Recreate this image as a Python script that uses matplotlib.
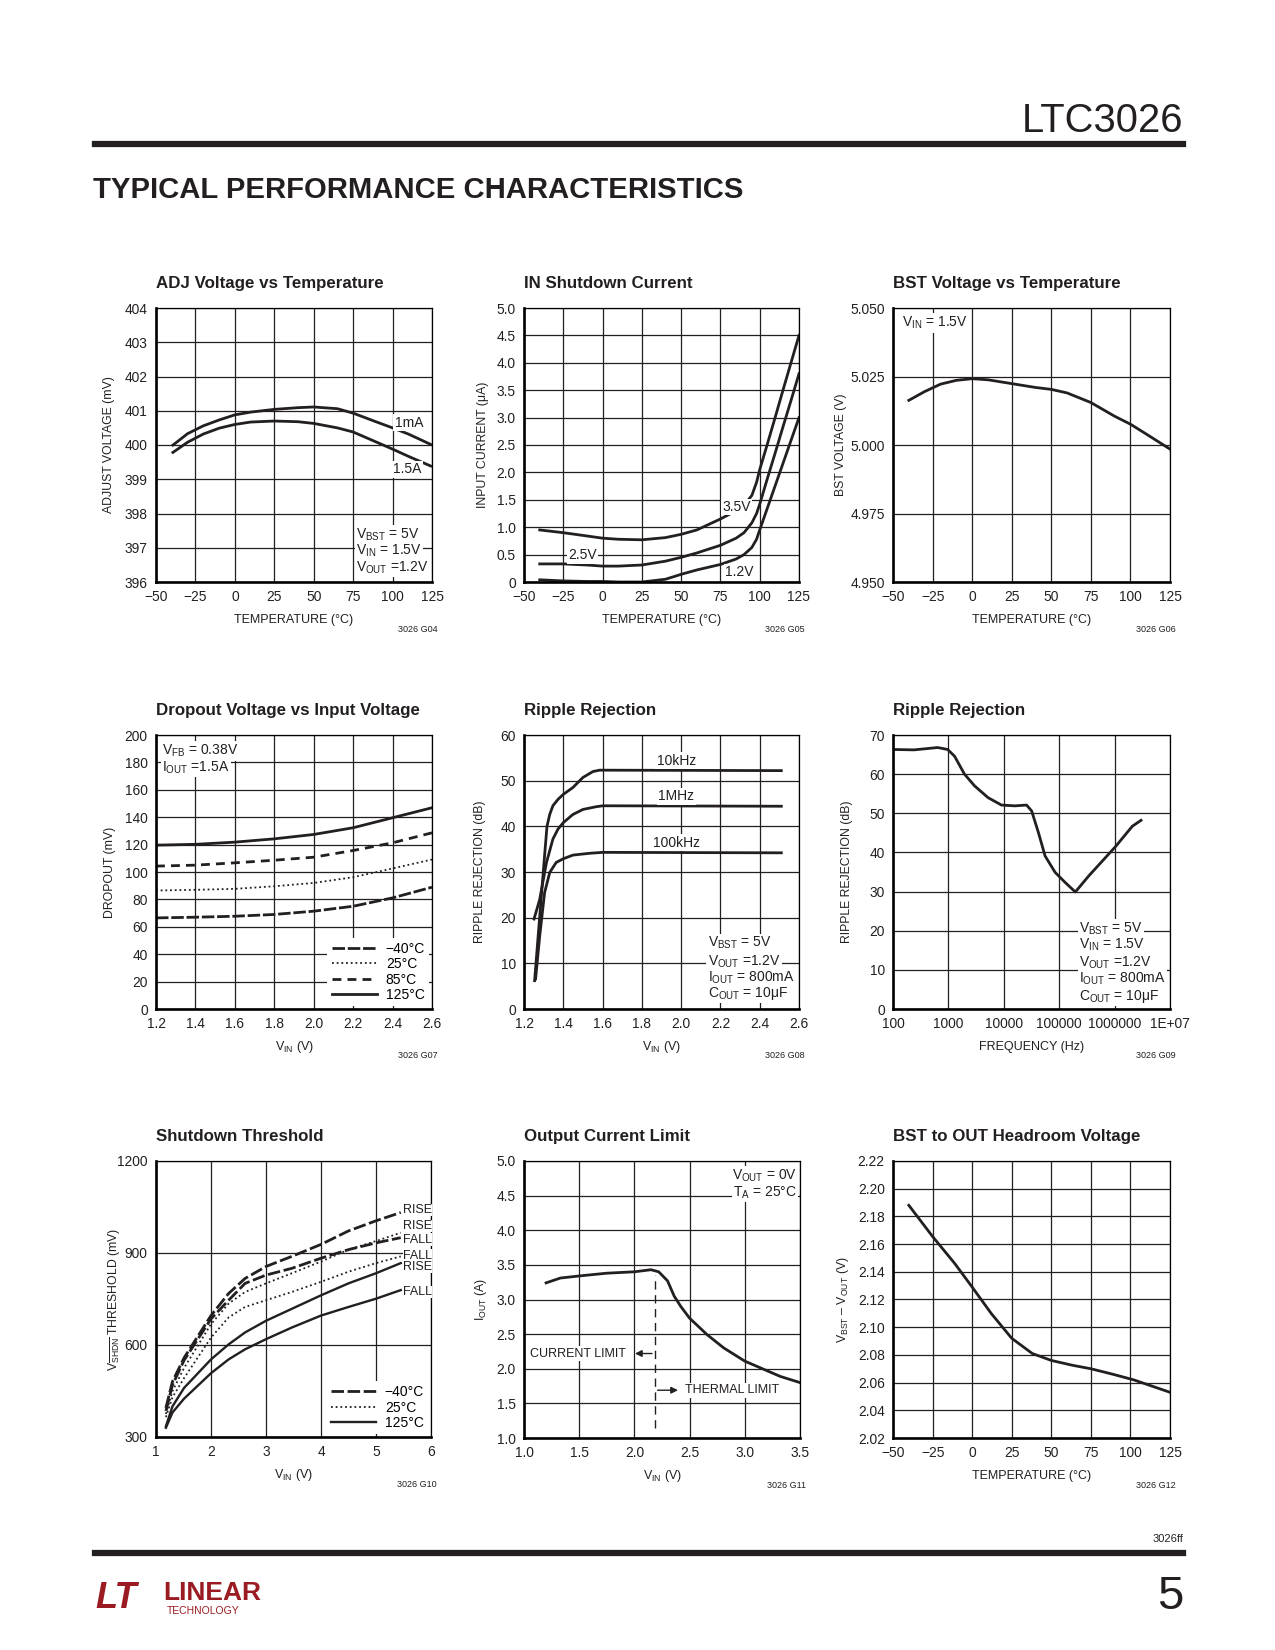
import matplotlib
matplotlib.use('Agg')
import matplotlib.pyplot as plt
from matplotlib import font_manager
from matplotlib.lines import Line2D

names = {f.name for f in font_manager.fontManager.ttflist}
NARROW = 'Liberation Sans Narrow' in names
FONT = 'Liberation Sans Narrow' if NARROW else 'Liberation Sans'
# the regular face is wider than the datasheet's condensed face
K = 1.0 if NARROW else 0.9
plt.rcParams['font.family'] = [FONT, 'DejaVu Sans']
plt.rcParams['mathtext.fontset'] = 'custom'
plt.rcParams['mathtext.rm'] = FONT
plt.rcParams['mathtext.default'] = 'regular'
INK = '#231f20'
LOGO_RED = '#9a1c22'

# ---- data ----
# ADJ voltage vs temperature
temp1 = [-40, -30, -20, -10, 0, 10, 25, 40, 50, 65, 75, 90, 100, 110, 125]
adj_1ma = [399.97, 400.33, 400.56, 400.73, 400.88, 400.96, 401.04, 401.09, 401.11, 401.06, 400.93, 400.67, 400.50, 400.32, 400.00]
adj_15a = [399.76, 400.08, 400.32, 400.49, 400.60, 400.67, 400.70, 400.68, 400.63, 400.50, 400.38, 400.08, 399.88, 399.67, 399.37]

# IN shutdown current
temp2 = [-40, -25, -10, 0, 10, 25, 40, 50, 60, 75, 85, 90, 95, 98, 100, 105, 110, 115, 120, 125]
isd_35 = [0.95, 0.90, 0.84, 0.80, 0.78, 0.77, 0.81, 0.87, 0.95, 1.15, 1.30, 1.40, 1.58, 1.82, 2.05, 2.53, 3.02, 3.52, 4.01, 4.50]
isd_25 = [0.33, 0.33, 0.31, 0.29, 0.29, 0.31, 0.38, 0.45, 0.53, 0.67, 0.80, 0.90, 1.08, 1.25, 1.42, 1.90, 2.37, 2.85, 3.32, 3.80]
isd_12 = [0.04, 0.02, 0.01, 0.01, 0.0, 0.0, 0.05, 0.14, 0.22, 0.32, 0.42, 0.50, 0.63, 0.78, 0.95, 1.36, 1.77, 2.18, 2.59, 3.00]

# BST voltage vs temperature
temp3 = [-40, -30, -20, -10, 0, 10, 25, 40, 50, 60, 75, 90, 100, 110, 125]
bst_v = [5.0163, 5.0195, 5.0222, 5.0236, 5.0242, 5.0238, 5.0224, 5.0210, 5.0203, 5.0190, 5.0155, 5.0105, 5.0076, 5.0040, 4.9985]

# Dropout voltage vs input voltage
vin4 = [1.2, 1.4, 1.6, 1.8, 2.0, 2.2, 2.4, 2.6]
drop_125 = [119.6, 120.2, 121.8, 124.2, 127.4, 132.3, 139.6, 146.9]
drop_85 = [104.3, 105.0, 106.7, 108.6, 110.8, 115.7, 121.3, 128.6]
drop_25 = [86.5, 87.0, 87.7, 89.6, 92.0, 96.2, 102.6, 109.1]
drop_m40 = [66.5, 67.0, 67.7, 69.0, 71.4, 75.0, 81.1, 88.9]

# Ripple rejection vs VIN
vin_10k = [1.254, 1.271, 1.288, 1.305, 1.317, 1.331, 1.347, 1.373, 1.40, 1.449, 1.50, 1.551, 1.585, 2.51]
rr_10k = [6.2, 15.4, 24.6, 33.7, 40.0, 42.6, 44.5, 45.9, 47.0, 48.5, 50.7, 52.0, 52.3, 52.2]
vin_1m = [1.251, 1.28, 1.314, 1.347, 1.373, 1.40, 1.449, 1.50, 1.568, 1.602, 2.51]
rr_1m = [19.7, 24.0, 32.0, 37.2, 39.4, 40.8, 42.6, 43.7, 44.3, 44.5, 44.4]
vin_100k = [1.259, 1.28, 1.305, 1.331, 1.364, 1.40, 1.449, 1.534, 1.602, 2.51]
rr_100k = [6.6, 16.0, 25.5, 29.9, 32.1, 32.9, 33.7, 34.1, 34.3, 34.2]

# Ripple rejection vs frequency
freq6 = [100, 240, 640, 970, 1290, 1950, 2970, 5190, 9080, 15800, 25800, 31800, 42100, 55600, 84500, 128700, 195600, 341400, 1040000, 2090000, 3000000]
rr6 = [66.3, 66.2, 66.8, 66.3, 64.6, 60.0, 57.0, 54.0, 52.1, 51.9, 52.1, 50.6, 45.1, 39.1, 34.9, 32.3, 29.9, 34.0, 41.5, 46.7, 48.2]
freq_ticks = [100, 1000, 10000, 100000, 1000000, 10000000]
freq_labels = ['100', '1000', '10000', '100000', '1000000', '1E+07']

# Shutdown threshold
vin7 = [1.18, 1.3, 1.51, 2.0, 2.32, 2.62, 3.0, 3.47, 4.0, 4.5, 5.0, 5.45]
m40_rise = [395, 481, 558, 696, 768, 817, 856, 889, 928, 972, 1005, 1032]
m40_fall = [385, 470, 550, 685, 746, 801, 828, 850, 883, 911, 933, 950]
p25_rise = [375, 450, 525, 668, 735, 773, 801, 834, 872, 911, 939, 966]
p25_fall = [365, 430, 492, 624, 690, 724, 746, 773, 806, 839, 867, 889]
p125_rise = [335, 400, 460, 553, 602, 641, 679, 718, 762, 801, 834, 867]
p125_fall = [330, 380, 425, 508, 553, 586, 619, 657, 696, 724, 751, 779]
edge_labels = ['RISE', 'RISE', 'FALL', 'FALL', 'RISE', 'FALL']
edge_label_y = [1040, 988, 944, 891, 854, 773]

# Output current limit
vin8 = [1.2, 1.33, 1.5, 1.75, 2.0, 2.15, 2.22, 2.30, 2.36, 2.42, 2.5, 2.66, 2.81, 3.0, 3.32, 3.5]
iout8 = [3.24, 3.31, 3.34, 3.38, 3.40, 3.43, 3.40, 3.27, 3.05, 2.90, 2.73, 2.49, 2.30, 2.11, 1.89, 1.80]
limit_vin = 2.185
limit_span = [1.15, 3.35]

# BST to OUT headroom
temp9 = [-40, -25, -11, 0, 12, 25, 38, 50, 63, 75, 89, 102, 125]
headroom = [2.188, 2.1655, 2.146, 2.129, 2.110, 2.092, 2.081, 2.076, 2.0726, 2.070, 2.066, 2.062, 2.053]

temp_ticks = [-50, -25, 0, 25, 50, 75, 100, 125]
temp_labels = ['\u221250', '\u221225', '0', '25', '50', '75', '100', '125']

# ---- page ----
fig = plt.figure(figsize=(12.75, 16.5), dpi=100)
W, H = 1275, 1650


def ftext(x, y, s, **kw):
    fig.text(x / W, 1 - y / H, s, **kw)


def rule(y, lw=4.5):
    fig.add_artist(Line2D([95 / W, 1183 / W], [1 - y / H] * 2, lw=lw, color=INK))


def make_axes(left, top, w=276, h=274):
    return fig.add_axes([left / W, 1 - (top + h) / H, w / W, h / H])


def style(ax, xlim, ylim, xt, xl, yt, yl, xlabel, ylabel, title, code, yoff):
    ax.set_xlim(*xlim)
    ax.set_ylim(*ylim)
    ax.set_xticks(xt)
    ax.set_xticklabels(xl)
    ax.set_yticks(yt)
    ax.set_yticklabels(yl)
    ax.minorticks_off()
    ax.grid(True, color=INK, lw=0.9)
    ax.set_axisbelow(True)
    ax.tick_params(length=0, labelsize=11 * K, pad=6, colors=INK)
    for s in ['left', 'bottom']:
        ax.spines[s].set_linewidth(1.9)
    for s in ['top', 'right']:
        ax.spines[s].set_linewidth(0.9)
    ax.text(0, 1 + 20 / 274, title, transform=ax.transAxes, fontsize=13.5 * K,
            fontweight='bold', ha='left', va='baseline', color=INK)
    ax.set_xlabel(xlabel, fontsize=10 * K, va='center', color=INK)
    ax.xaxis.set_label_coords(0.5, -38 / 274)
    ax.set_ylabel(ylabel, fontsize=9.8 * K, va='center', color=INK)
    ax.yaxis.set_label_coords(-yoff / 276, 0.5)
    ax.text(1.022, -47 / 274, code, transform=ax.transAxes, fontsize=6.5,
            ha='right', va='center', color=INK)


def note(ax, x, ys, lines, ha='left', size=10):
    for y, s in zip(ys, lines):
        ax.text(x, y, s, ha=ha, va='center', fontsize=size, color=INK,
                bbox=dict(facecolor='white', edgecolor='none', pad=1.0))


ftext(1183, 121, 'LTC3026', ha='right', va='center', fontsize=32 * K, color=INK)
rule(144)
ftext(93, 190, 'TYPICAL PERFORMANCE CHARACTERISTICS', ha='left', va='center',
      fontsize=26 * K * K, fontweight='bold', color=INK)
rule(1553)
ftext(1183, 1539, '3026ff', ha='right', va='center', fontsize=8, color=INK)
ftext(1183, 1597, '5', ha='right', va='center', fontsize=34, color=INK)
ftext(95, 1598, 'LT', ha='left', va='center', fontsize=26, fontweight='bold',
      fontstyle='italic', color=LOGO_RED)
ftext(163, 1593, 'LINEAR', ha='left', va='center', fontsize=19, fontweight='bold', color=LOGO_RED)
ftext(167, 1611, 'TECHNOLOGY', ha='left', va='center', fontsize=7.5, color=LOGO_RED)

cols = [156, 524, 893]
rows = [308, 735, 1161]
LW = 2.0

# 1 ADJ voltage
ax = make_axes(cols[0], rows[0])
style(ax, (-50, 125), (396, 404), temp_ticks, temp_labels, range(396, 405),
      [str(v) for v in range(396, 405)], 'TEMPERATURE (\u00b0C)', 'ADJUST VOLTAGE (mV)',
      'ADJ Voltage vs Temperature', '3026 G04', 47)
ax.plot(temp1, adj_1ma, color=INK, lw=LW, solid_capstyle='butt')
ax.plot(temp1, adj_15a, color=INK, lw=LW, solid_capstyle='butt')
note(ax, 110.5, [400.65], ['1mA'], ha='center')
note(ax, 109.5, [399.29], ['1.5A'], ha='center')
note(ax, 77, [397.37, 396.9, 396.42], ['V$_{BST}$ = 5V', 'V$_{IN}$ = 1.5V', 'V$_{OUT}$ =1.2V'])

# 2 IN shutdown current
ax = make_axes(cols[1], rows[0], w=275)
yt2 = [0, 0.5, 1.0, 1.5, 2.0, 2.5, 3.0, 3.5, 4.0, 4.5, 5.0]
style(ax, (-50, 125), (0, 5), temp_ticks, temp_labels, yt2,
      ['0'] + ['%.1f' % v for v in yt2[1:]], 'TEMPERATURE (\u00b0C)', 'INPUT CURRENT (\u03bcA)',
      'IN Shutdown Current', '3026 G05', 41)
for ser in (isd_35, isd_25, isd_12):
    ax.plot(temp2, ser, color=INK, lw=LW)
note(ax, 85.4, [1.37], ['3.5V'], ha='center')
note(ax, -12.8, [0.49], ['2.5V'], ha='center')
note(ax, 87, [0.18], ['1.2V'], ha='center')

# 3 BST voltage
ax = make_axes(cols[2], rows[0], w=277)
yt3 = [4.950, 4.975, 5.000, 5.025, 5.050]
style(ax, (-50, 125), (4.95, 5.05), temp_ticks, temp_labels, yt3,
      ['%.3f' % v for v in yt3], 'TEMPERATURE (\u00b0C)', 'BST VOLTAGE (V)',
      'BST Voltage vs Temperature', '3026 G06', 52)
ax.plot(temp3, bst_v, color=INK, lw=LW)
note(ax, -44, [5.0445], ['V$_{IN}$ = 1.5V'])

# 4 Dropout
ax = make_axes(cols[0], rows[1])
xt4 = [1.2, 1.4, 1.6, 1.8, 2.0, 2.2, 2.4, 2.6]
style(ax, (1.2, 2.6), (0, 200), xt4, ['%.1f' % v for v in xt4], range(0, 201, 20),
      [str(v) for v in range(0, 201, 20)], 'V$_{IN}$ (V)', 'DROPOUT (mV)',
      'Dropout Voltage vs Input Voltage', '3026 G07', 46)
h1, = ax.plot(vin4, drop_m40, color=INK, lw=LW, ls=(0, (4.5, 1.0)))
h2, = ax.plot(vin4, drop_25, color=INK, lw=1.3, ls=(0, (1, 1.6)))
h3, = ax.plot(vin4, drop_85, color=INK, lw=LW, ls=(0, (3.2, 2.2)))
h4, = ax.plot(vin4, drop_125, color=INK, lw=LW)
note(ax, 1.23, [188.3, 176], ['V$_{FB}$ = 0.38V', 'I$_{OUT}$ =1.5A'])
ax.legend([h1, h2, h3, h4], ['\u221240\u00b0C', '25\u00b0C', '85\u00b0C', '125\u00b0C'],
          loc='lower right', fontsize=10, frameon=True, facecolor='white',
          edgecolor='none', framealpha=1, fancybox=False, handlelength=3.3,
          handletextpad=0.6, labelspacing=0.1, borderpad=0.3, borderaxespad=0.2)

# 5 Ripple rejection vs VIN
ax = make_axes(cols[1], rows[1], w=275)
style(ax, (1.2, 2.6), (0, 60), xt4, ['%.1f' % v for v in xt4], range(0, 61, 10),
      [str(v) for v in range(0, 61, 10)], 'V$_{IN}$ (V)', 'RIPPLE REJECTION (dB)',
      'Ripple Rejection', '3026 G08', 44)
ax.plot(vin_10k, rr_10k, color=INK, lw=LW)
ax.plot(vin_1m, rr_1m, color=INK, lw=LW)
ax.plot(vin_100k, rr_100k, color=INK, lw=LW)
note(ax, 1.975, [54.4], ['10kHz'], ha='center')
note(ax, 1.975, [46.6], ['1MHz'], ha='center')
note(ax, 1.975, [36.4], ['100kHz'], ha='center')
note(ax, 2.135, [14.4, 10.4, 6.8, 3.4],
     ['V$_{BST}$ = 5V', 'V$_{OUT}$ =1.2V', 'I$_{OUT}$ = 800mA', 'C$_{OUT}$ = 10\u03bcF'])

# 6 Ripple rejection vs frequency
ax = make_axes(cols[2], rows[1], w=277)
ax.set_xscale('log')
style(ax, (100, 1e7), (0, 70), freq_ticks, freq_labels, range(0, 71, 10),
      [str(v) for v in range(0, 71, 10)], 'FREQUENCY (Hz)', 'RIPPLE REJECTION (dB)',
      'Ripple Rejection', '3026 G09', 46)
ax.plot(freq6, rr6, color=INK, lw=LW)
note(ax, 2.3e5, [20.6, 16.4, 11.9, 7.7, 3.3],
     ['V$_{BST}$ = 5V', 'V$_{IN}$ = 1.5V', 'V$_{OUT}$ =1.2V', 'I$_{OUT}$ = 800mA', 'C$_{OUT}$ = 10\u03bcF'])

# 7 Shutdown threshold
ax = make_axes(cols[0], rows[2], w=275, h=276)
style(ax, (1, 6), (300, 1200), range(1, 7), [str(v) for v in range(1, 7)], [300, 600, 900, 1200],
      ['300', '600', '900', '1200'], 'V$_{IN}$ (V)', r'V$_{\overline{SHDN}}$ THRESHOLD (mV)',
      'Shutdown Threshold', '3026 G10', 42)
dash40 = (0, (4.5, 1.3))
g1, = ax.plot(vin7, m40_rise, color=INK, lw=LW, ls=dash40)
ax.plot(vin7, m40_fall, color=INK, lw=LW, ls=dash40)
g2, = ax.plot(vin7, p25_rise, color=INK, lw=1.3, ls=(0, (1, 1.6)))
ax.plot(vin7, p25_fall, color=INK, lw=1.3, ls=(0, (1, 1.6)))
g3, = ax.plot(vin7, p125_rise, color=INK, lw=1.7)
ax.plot(vin7, p125_fall, color=INK, lw=1.7)
for lab, yv in zip(edge_labels, edge_label_y):
    ax.text(5.49, yv, lab, ha='left', va='center', fontsize=10 * K, color=INK,
            bbox=dict(facecolor='white', edgecolor='none', pad=0.3))
ax.legend([g1, g2, g3], ['\u221240\u00b0C', '25\u00b0C', '125\u00b0C'], loc='lower right',
          fontsize=10, frameon=True, facecolor='white', edgecolor='none', framealpha=1,
          fancybox=False, handlelength=3.3, handletextpad=0.6, labelspacing=0.1,
          borderpad=0.3, borderaxespad=0.2)

# 8 Output current limit
ax = make_axes(cols[1], rows[2], w=276, h=277)
xt8 = [1.0, 1.5, 2.0, 2.5, 3.0, 3.5]
yt8 = [1.0, 1.5, 2.0, 2.5, 3.0, 3.5, 4.0, 4.5, 5.0]
style(ax, (1.0, 3.5), (1.0, 5.0), xt8, ['%.1f' % v for v in xt8], yt8,
      ['%.1f' % v for v in yt8], 'V$_{IN}$ (V)', 'I$_{OUT}$ (A)',
      'Output Current Limit', '3026 G11', 43)
ax.plot(vin8, iout8, color=INK, lw=LW)
ax.plot([limit_vin, limit_vin], limit_span, color=INK, lw=1.0, ls=(0, (6, 4)))
ax.annotate('', xy=(1.98, 2.22), xytext=(limit_vin, 2.22),
            arrowprops=dict(arrowstyle='-|>', color=INK, lw=1.0, mutation_scale=10))
ax.annotate('', xy=(2.42, 1.69), xytext=(limit_vin, 1.69),
            arrowprops=dict(arrowstyle='-|>', color=INK, lw=1.0, mutation_scale=10))
note(ax, 1.05, [2.22], ['CURRENT LIMIT'], size=10 * K)
note(ax, 2.455, [1.69], ['THERMAL LIMIT'], size=10 * K)
note(ax, 3.47, [4.79, 4.54], ['V$_{OUT}$ = 0V', 'T$_{A}$ = 25\u00b0C'], ha='right')

# 9 BST to OUT headroom
ax = make_axes(cols[2], rows[2], w=277, h=277)
yt9 = [2.02, 2.04, 2.06, 2.08, 2.10, 2.12, 2.14, 2.16, 2.18, 2.20, 2.22]
style(ax, (-50, 125), (2.02, 2.22), temp_ticks, temp_labels, yt9,
      ['%.2f' % v for v in yt9], 'TEMPERATURE (\u00b0C)', 'V$_{BST}$ \u2013 V$_{OUT}$ (V)',
      'BST to OUT Headroom Voltage', '3026 G12', 50)
ax.plot(temp9, headroom, color=INK, lw=LW)

fig.savefig('out.png', dpi=100, facecolor='white')
